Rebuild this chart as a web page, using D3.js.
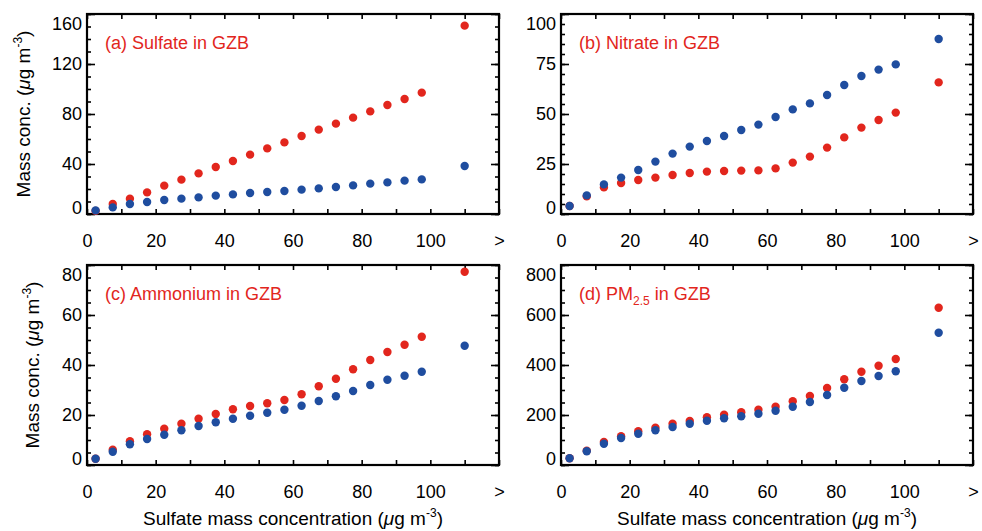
<!DOCTYPE html>
<html>
<head>
<meta charset="utf-8">
<script src="https://cdn.jsdelivr.net/npm/d3@7"></script>
<style>
	body { margin: 0; background: #fff; }
	svg text { font-family: "Liberation Sans", Arial, sans-serif; }
</style>
</head>
<body>
<div id="chart"></div>
<script>
// bin centres of sulfate concentration; last bin is ">100"
var xBins = [2.5, 7.5, 12.5, 17.5, 22.5, 27.5, 32.5, 37.5, 42.5, 47.5,
	52.5, 57.5, 62.5, 67.5, 72.5, 77.5, 82.5, 87.5, 92.5, 97.5, 110];

var xTicks = [0, 10, 20, 30, 40, 50, 60, 70, 80, 90, 100, 110, 120];
var xLabels = ['0', '', '20', '', '40', '', '60', '', '80', '', '100', '', '>'];

var sulfateRed = [2.5, 8.0, 12.3, 17.3, 22.7, 27.5, 32.5, 37.6, 42.4, 47.5,
	52.5, 57.3, 62.4, 67.5, 72.3, 77.1, 82.1, 87.2, 92.0, 97.1, 150.7];
var sulfateBlue = [2.9, 5.3, 8.0, 9.6, 11.2, 12.3, 13.3, 14.7, 15.7, 16.8,
	17.6, 18.4, 19.5, 20.5, 21.6, 22.9, 24.3, 25.3, 26.7, 27.7, 38.4];

var nitrateRed = [4.0, 8.8, 13.3, 15.5, 17.0, 18.2, 19.5, 20.5, 21.2, 21.5,
	21.7, 21.8, 22.8, 25.7, 28.7, 33.2, 38.3, 43.2, 47.0, 50.7, 65.8];
var nitrateBlue = [4.0, 9.3, 14.8, 18.2, 22.0, 26.2, 30.2, 33.7, 36.5, 39.0,
	42.0, 44.7, 48.5, 52.3, 55.3, 59.5, 64.5, 69.0, 72.2, 74.8, 87.5];

var ammoniumRed = [2.5, 6.1, 9.5, 12.3, 14.5, 16.5, 18.5, 20.4, 22.3, 23.6,
	24.7, 26.0, 28.3, 31.5, 34.5, 38.3, 42.0, 45.2, 48.1, 51.3, 77.3];
var ammoniumBlue = [2.5, 5.3, 8.3, 10.4, 12.1, 13.9, 15.6, 17.1, 18.5, 19.7,
	20.9, 22.1, 23.7, 25.6, 27.5, 29.6, 32.0, 34.1, 35.7, 37.3, 47.7];

var pmRed = [27, 57, 92, 115, 135, 149, 165, 176, 191, 201,
	211, 221, 233, 255, 276, 308, 343, 373, 397, 424, 629];
var pmBlue = [27, 55, 85, 108, 125, 139, 152, 165, 177, 187,
	195, 205, 217, 233, 252, 280, 309, 336, 356, 375, 529];

var sulfateTicks = [0, 40, 80, 120, 160];
var nitrateTicks = [0, 25, 50, 75, 100];
var ammoniumTicks = [0, 20, 40, 60, 80];
var pmTicks = [0, 200, 400, 600, 800];

var RED = '#e2261d',
		BLUE = '#1f4d9f';

var panels = [
	{ tag: '(a) Sulfate in GZB', red: sulfateRed, blue: sulfateBlue,
		ticks: sulfateTicks, minor: 10, left: 87, top: 14, ytitle: 24 },
	{ tag: '(b) Nitrate in GZB', red: nitrateRed, blue: nitrateBlue,
		ticks: nitrateTicks, minor: 5, left: 561, top: 14 },
	{ tag: '(c) Ammonium in GZB', red: ammoniumRed, blue: ammoniumBlue,
		ticks: ammoniumTicks, minor: 5, left: 87, top: 265, ytitle: 33, xtitle: true },
	{ tag: 'pm', red: pmRed, blue: pmBlue,
		ticks: pmTicks, minor: 50, left: 561, top: 265, xtitle: true }
];

var pw = 412, ph = 200, fs = 18, tfs = 19;

var svg = d3.select('#chart').append('svg')
	.attr('width', 982).attr('height', 531);

function minorTicks (ticks, step) {
	var out = [], max = ticks[ticks.length - 1];
	for (var v = 0; v <= max + 1e-9; v += step) { out.push(v); }
	return out;
}

function addUnit (t) {
	t.append('tspan').text('(');
	t.append('tspan').style('font-style', 'italic').text('\u03bc');
	t.append('tspan').text('g m');
	t.append('tspan').attr('dy', -8).style('font-size', '12px').text('-3');
	t.append('tspan').attr('dy', 8).text(')');
}

panels.forEach(function (p) {
	var x = d3.scaleLinear().domain([0, 120]).range([p.left, p.left + pw]);
	var yMax = p.ticks[p.ticks.length - 1];
	var y = d3.scaleLinear().domain([0, yMax]).range([p.top + ph, p.top]);
	var g = svg.append('g');

	// x ticks (bottom labelled, top mirrored)
	g.append('g')
		.attr('transform', 'translate(0,' + (p.top + ph) + ')')
		.call(d3.axisBottom(x).tickValues(xTicks).tickSize(-5).tickPadding(20)
			.tickFormat(function (d, i) { return xLabels[i]; }));
	g.append('g')
		.attr('transform', 'translate(0,' + p.top + ')')
		.call(d3.axisTop(x).tickValues(xTicks).tickSize(-5).tickFormat(''));

	// y ticks: minor then major, both sides
	g.append('g').attr('transform', 'translate(' + p.left + ',0)')
		.call(d3.axisLeft(y).tickValues(minorTicks(p.ticks, p.minor)).tickSize(-4).tickFormat(''));
	g.append('g').attr('transform', 'translate(' + (p.left + pw) + ',0)')
		.call(d3.axisRight(y).tickValues(minorTicks(p.ticks, p.minor)).tickSize(-4).tickFormat(''));
	var yl = g.append('g').attr('transform', 'translate(' + p.left + ',0)')
		.call(d3.axisLeft(y).tickValues(p.ticks).tickSize(-8).tickPadding(5));
	g.append('g').attr('transform', 'translate(' + (p.left + pw) + ',0)')
		.call(d3.axisRight(y).tickValues(p.ticks).tickSize(-8).tickFormat(''));

	// end labels sit inside the frame
	yl.selectAll('.tick text')
		.attr('transform', function (d) {
			return d === 0 ? 'translate(0,-6)' : (d === yMax ? 'translate(0,10)' : null);
		});

	g.selectAll('.domain').remove();
	g.selectAll('.tick line').attr('stroke', '#000').attr('stroke-width', 1.6);
	g.selectAll('.tick text').attr('fill', '#000').style('font-size', fs + 'px')
		.style('font-family', '"Liberation Sans", Arial, sans-serif');

	g.append('rect')
		.attr('x', p.left).attr('y', p.top)
		.attr('width', pw).attr('height', ph)
		.attr('fill', 'none').attr('stroke', '#000').attr('stroke-width', 2.2);

	// points
	g.append('g').selectAll('circle').data(p.red).enter().append('circle')
		.attr('cx', function (d, i) { return x(xBins[i]); })
		.attr('cy', function (d) { return y(d); })
		.attr('r', 4.2).attr('fill', RED);
	g.append('g').selectAll('circle').data(p.blue).enter().append('circle')
		.attr('cx', function (d, i) { return x(xBins[i]); })
		.attr('cy', function (d) { return y(d); })
		.attr('r', 4.2).attr('fill', BLUE);

	// panel tag
	var tag = g.append('text')
		.attr('x', p.left + 18).attr('y', p.top + 35)
		.attr('fill', RED).style('font-size', fs + 'px');
	if (p.tag === 'pm') {
		tag.append('tspan').text('(d) PM');
		tag.append('tspan').attr('dy', 5).style('font-size', '12px').text('2.5');
		tag.append('tspan').attr('dy', -5).text(' in GZB');
	} else {
		tag.text(p.tag);
	}

	if (p.ytitle) {
		var yt = g.append('text')
			.attr('transform', 'translate(' + (p.ytitle + 6) + ',' + (p.top + ph / 2) + ') rotate(-90)')
			.attr('text-anchor', 'middle').style('font-size', tfs + 'px');
		yt.append('tspan').text('Mass conc. ');
		addUnit(yt);
	}

	if (p.xtitle) {
		var xt = g.append('text')
			.attr('x', p.left + pw / 2).attr('y', 525)
			.attr('text-anchor', 'middle').style('font-size', tfs + 'px');
		xt.append('tspan').text('Sulfate mass concentration ');
		addUnit(xt);
	}
});
</script>
</body>
</html>
